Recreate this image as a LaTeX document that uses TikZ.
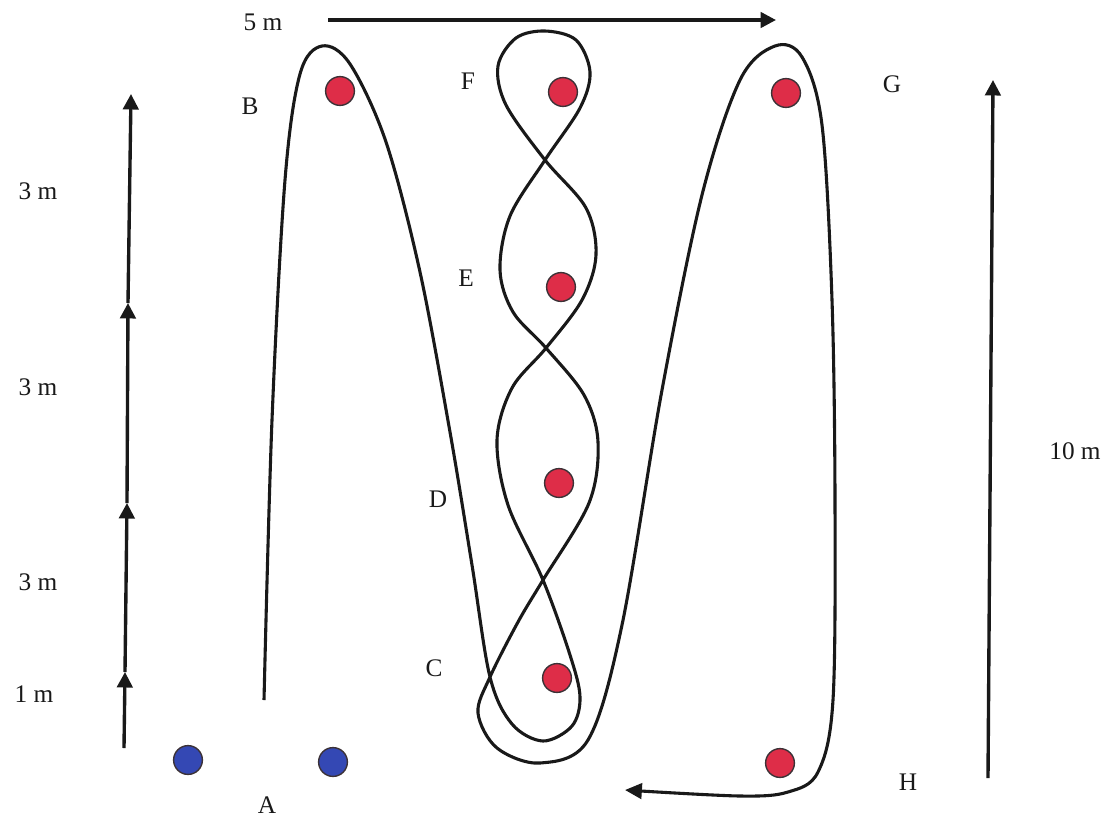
\documentclass[tikz,border=0pt]{standalone}
\usepackage{fontspec}
\setmainfont{Liberation Serif}
\usepackage{tikz}
\usetikzlibrary{arrows.meta, positioning, calc}
\usepackage{xcolor}
\definecolor{conered}{RGB}{222,45,72}
\definecolor{coneblue}{RGB}{52,72,180}
\definecolor{coneedge}{RGB}{60,50,55}
\definecolor{ink}{RGB}{25,25,25}

\tikzset{
  cone/.style={circle, draw=coneedge, line width=1pt, fill=conered, minimum size=0.72cm, inner sep=0pt},
  bluecone/.style={cone, fill=coneblue},
  lbl/.style={font=\fontsize{18}{20}\selectfont, text=ink},
  dist/.style={ink, line width=2.4pt, -{Triangle[length=11pt, width=11pt]}},
  route/.style={ink, line width=2.2pt}
}

\begin{document}
\begin{tikzpicture}[x=0.025cm, y=-0.025cm]
  \useasboundingbox (0,0) rectangle (1112,818);

  % cones
  \node[cone] (coneB) at (340,91) {};
  \node[cone] (coneF) at (563,92) {};
  \node[cone] (coneG) at (786,93) {};
  \node[cone] (coneE) at (561,287) {};
  \node[cone] (coneD) at (559,483) {};
  \node[cone] (coneC) at (557,678) {};
  \node[cone] (coneH) at (780,763) {};
  \node[bluecone] (startL) at (188,760) {};
  \node[bluecone] (startR) at (333,762) {};

  % letters
  \node[lbl] (labA) at (267,805) {A};
  \node[lbl] (labB) at (250,106) {B};
  \node[lbl] (labC) at (434,668) {C};
  \node[lbl] (labD) at (438,499) {D};
  \node[lbl] (labE) at (466,278) {E};
  \node[lbl] (labF) at (468,81) {F};
  \node[lbl] (labG) at (892,84) {G};
  \node[lbl] (labH) at (908,782) {H};

  % left scale, split in 1 m + 3 x 3 m
  \coordinate (s0) at (124,748);
  \coordinate (s1) at (125,672);
  \coordinate (s2) at (127,503);
  \coordinate (s3) at (128,303);
  \coordinate (s4) at (131,94);
  \draw[dist] (s0) -- (s1);
  \draw[dist] (s1) -- (s2);
  \draw[dist] (s2) -- (s3);
  \draw[dist] (s3) -- (s4);
  \node[lbl] (m1) at (34,694) {1 m};
  \node[lbl] (m2) at (38,582) {3 m};
  \node[lbl] (m3) at (38,387) {3 m};
  \node[lbl] (m4) at (38,191) {3 m};

  % width arrow on top
  \node[lbl] (w5) at (263,22) {5 m};
  \coordinate (w0) at (328,20);
  \coordinate (w1) at (776,20);
  \draw[dist] (w0) -- (w1);

  % length arrow on the right
  \coordinate (h0) at (988,778);
  \coordinate (h1) at (993,80);
  \draw[dist] (h0) -- (h1);
  \node[lbl] (h10) at (1075,451) {10 m};

  % route A - B - C - D - E - F - E - D - C - G - H
  \draw[route, -{Triangle[length=12pt, width=11pt]}] plot[smooth, tension=0.55] coordinates {
    (264,700) (272,420) (285,180) (300,74) (322,46) (350,64)
    (386,142) (420,272) (450,432) (472,565) (490,677) (512,724)
    (543,741) (572,726) (580,697) (570,655)
    (543,580) (508,505) (497,440) (512,388) (546,348) (582,300) (596,255) (586,208)
    (545,160) (506,105) (498,66) (516,38) (545,31) (576,40) (590,72) (580,108)
    (545,160) (510,216) (500,270) (513,312) (546,348) (584,395) (598,442) (589,503)
    (543,580) (518,622) (490,677) (478,713) (497,748) (540,763) (588,740) (622,625)
    (662,390) (702,195) (740,80) (775,46) (802,57) (822,125) (832,300) (835,500)
    (833,700) (818,772) (788,792) (740,796) (625,790)};
\end{tikzpicture}
\end{document}
